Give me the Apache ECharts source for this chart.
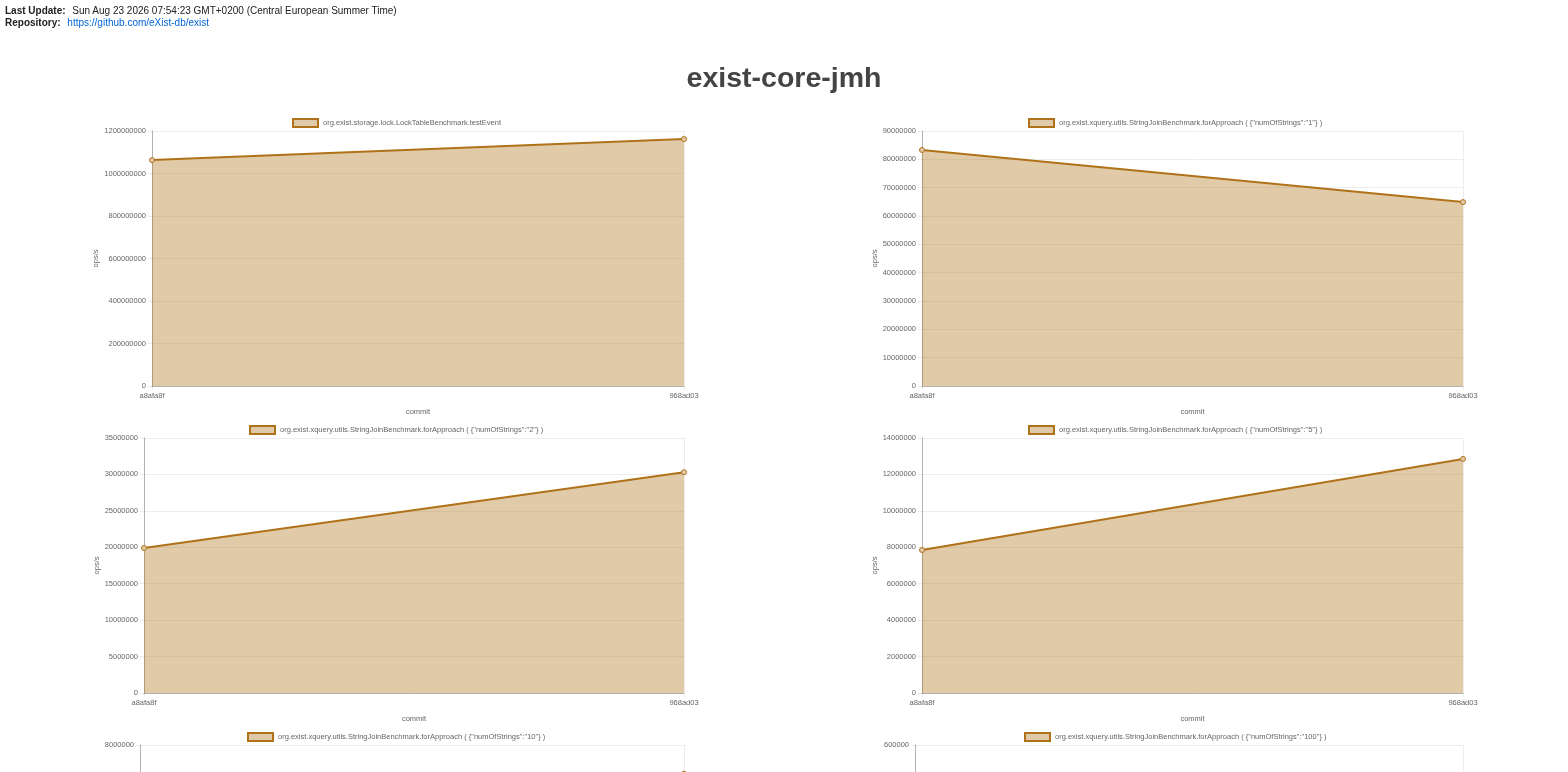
<!DOCTYPE html>
<html>
<head>
<meta charset="utf-8">
<script src="https://cdn.jsdelivr.net/npm/echarts@6/dist/echarts.min.js"></script>
<style>
  html, body { margin: 0; padding: 0; overflow: hidden; background: #fff; }
  body { width: 1568px; height: 772px; position: relative; font-family: "Liberation Sans", Arial, Helvetica, sans-serif; }
  #meta { position: absolute; left: 5px; top: 5px; font-size: 10px; line-height: 11.5px; color: #222; z-index: 2; }
  #meta b { font-weight: bold; margin-right: 4px; }
  #meta a { color: #0366d6; text-decoration: none; }
  #title { position: absolute; left: 0; width: 1568px; top: 58px; text-align: center; font-size: 28.5px; font-weight: bold; color: #444; z-index: 2; margin: 0; line-height: 38px; }
  #chart { position: absolute; left: 0; top: 0; width: 1568px; height: 1080px; }
</style>
</head>
<body>
<div id="meta">
  <div><b>Last Update:</b> Sun Aug 23 2026 07:54:23 GMT+0200 (Central European Summer Time)</div>
  <div><b>Repository:</b> <a href="https://github.com/eXist-db/exist">https://github.com/eXist-db/exist</a></div>
</div>
<h1 id="title">exist-core-jmh</h1>
<div id="chart"></div>
<script>
// ---- data ----
const commits = ["a8afa8f", "968ad03"];
const benchNames = [
  "org.exist.storage.lock.LockTableBenchmark.testEvent",
  "org.exist.xquery.utils.StringJoinBenchmark.forApproach ( {\"numOfStrings\":\"1\"} )",
  "org.exist.xquery.utils.StringJoinBenchmark.forApproach ( {\"numOfStrings\":\"2\"} )",
  "org.exist.xquery.utils.StringJoinBenchmark.forApproach ( {\"numOfStrings\":\"5\"} )",
  "org.exist.xquery.utils.StringJoinBenchmark.forApproach ( {\"numOfStrings\":\"10\"} )",
  "org.exist.xquery.utils.StringJoinBenchmark.forApproach ( {\"numOfStrings\":\"100\"} )"
];
const valuesLockTable = [1063000000, 1162000000];
const valuesJoin1 = [83300000, 64900000];
const valuesJoin2 = [19900000, 30300000];
const valuesJoin5 = [7850000, 12850000];
const valuesJoin10 = [4900000, 7100000];
const valuesJoin100 = [380000, 450000];
const seriesValues = [valuesLockTable, valuesJoin1, valuesJoin2, valuesJoin5, valuesJoin10, valuesJoin100];
const yMax = [1200000000, 90000000, 35000000, 14000000, 8000000, 600000];
const yInterval = [200000000, 10000000, 5000000, 2000000, 1000000, 100000];
const yAxisName = "ops/s";
const xAxisName = "commit";

// ---- layout (pixels) ----
const layout = [
  { left: 152, top: 131, width: 532, height: 255, legendLeft: 292, nameGap: 49 },
  { left: 922, top: 131, width: 541, height: 255, legendLeft: 1028, nameGap: 43 },
  { left: 144, top: 438, width: 540, height: 255, legendLeft: 249, nameGap: 43 },
  { left: 922, top: 438, width: 541, height: 255, legendLeft: 1028, nameGap: 43 },
  { left: 140, top: 745, width: 544, height: 255, legendLeft: 247, nameGap: 39 },
  { left: 915, top: 745, width: 548, height: 255, legendLeft: 1024, nameGap: 36 }
];

const lineColor = '#b07219';
const fillColor = 'rgba(176,114,25,0.376)';
const swatchColor = '#e1caa9';
const textColor = '#666';
const gridColor = 'rgba(0,0,0,0.07)';
const axisColor = 'rgba(0,0,0,0.25)';
const fontFamily = '"Liberation Sans", Arial, Helvetica, sans-serif';
const fs = 7.5;

const grids = [], xAxes = [], yAxes = [], series = [], legends = [];
layout.forEach((L, i) => {
  grids.push({ left: L.left, top: L.top, width: L.width, height: L.height, containLabel: false });
  legends.push({
    data: [benchNames[i]],
    left: L.legendLeft, top: L.top - 13,
    icon: 'rect', itemWidth: 25, itemHeight: 8,
    itemStyle: { color: swatchColor, borderColor: lineColor, borderWidth: 2 },
    textStyle: { color: textColor, fontSize: fs, fontFamily: fontFamily },
    selectedMode: false, padding: 0
  });
  xAxes.push({
    type: 'category', gridIndex: i, data: commits, boundaryGap: false,
    name: xAxisName, nameLocation: 'middle', nameGap: 22,
    nameTextStyle: { color: textColor, fontSize: fs, fontFamily: fontFamily },
    axisLine: { show: true, lineStyle: { color: axisColor, width: 1 } },
    axisTick: { show: true, length: 4, lineStyle: { color: gridColor } },
    axisLabel: { color: textColor, fontSize: fs, fontFamily: fontFamily, margin: 6 },
    splitLine: { show: true, lineStyle: { color: gridColor, width: 1 } }
  });
  yAxes.push({
    type: 'value', gridIndex: i, min: 0, max: yMax[i], interval: yInterval[i],
    name: yAxisName, nameLocation: 'middle', nameGap: L.nameGap, nameRotate: 90,
    nameTextStyle: { color: textColor, fontSize: fs, fontFamily: fontFamily },
    axisLine: { show: true, lineStyle: { color: axisColor, width: 1 } },
    axisTick: { show: true, length: 4, lineStyle: { color: gridColor } },
    axisLabel: { color: textColor, fontSize: fs, fontFamily: fontFamily, margin: 6,
                 formatter: function (v) { return String(v); } },
    splitLine: { show: true, lineStyle: { color: gridColor, width: 1 } }
  });
  series.push({
    name: benchNames[i], type: 'line', xAxisIndex: i, yAxisIndex: i,
    data: seriesValues[i],
    symbol: 'circle', symbolSize: 5, showSymbol: true,
    lineStyle: { color: lineColor, width: 2 },
    itemStyle: { color: swatchColor, borderColor: lineColor, borderWidth: 1 },
    areaStyle: { color: fillColor, opacity: 1 },
    animation: false, silent: true
  });
});

const chart = echarts.init(document.getElementById('chart'), null, { renderer: 'canvas' });
chart.setOption({
  animation: false,
  grid: grids, xAxis: xAxes, yAxis: yAxes, series: series, legend: legends
});
</script>
</body>
</html>
